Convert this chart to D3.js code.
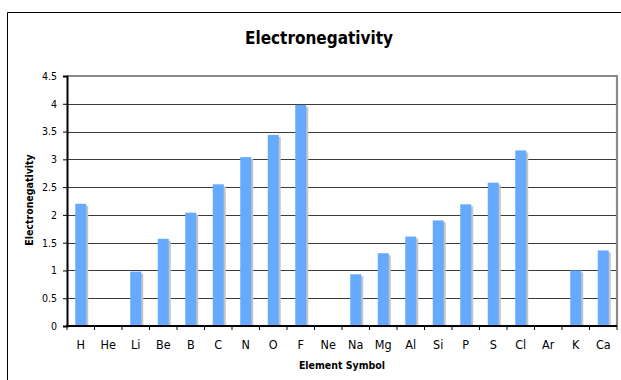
<!DOCTYPE html>
<html>
<head>
<meta charset="utf-8">
<script src="https://cdn.jsdelivr.net/npm/d3@7"></script>
<style>
  html, body { margin: 0; padding: 0; background: #fff; overflow: hidden; }
  svg { display: block; font-family: "DejaVu Sans Condensed", "DejaVu Sans", Verdana, sans-serif; }
</style>
</head>
<body>
<svg id="chart" width="621" height="380"></svg>
<script>
// Electronegativity of the first 20 elements
const elements = ["H","He","Li","Be","B","C","N","O","F","Ne","Na","Mg","Al","Si","P","S","Cl","Ar","K","Ca"];
const electronegativity = [2.2,0,0.98,1.57,2.04,2.55,3.04,3.44,3.98,0,0.93,1.31,1.61,1.9,2.19,2.58,3.16,0,1.0,1.36];
const yTicks = [0,0.5,1,1.5,2,2.5,3,3.5,4,4.5];

const svg = d3.select("#chart");
const plot = { left: 67, right: 617, top: 76, bottom: 326 };
const labelFont = "DejaVu Sans Condensed, DejaVu Sans, Verdana, sans-serif";

// outer chart frame: only the top and left edges fall inside the view
svg.append("path")
  .attr("d", "M7.5,380 V12.5 H621")
  .attr("fill", "none").attr("stroke", "#000").attr("stroke-width", 1);

const x = d3.scaleBand()
  .domain(elements)
  .range([plot.left, plot.right])
  .paddingInner(0.6)
  .paddingOuter(0.3);

const y = d3.scaleLinear()
  .domain([0, 4.5])
  .range([plot.bottom, plot.top]);

// horizontal gridlines
svg.append("g")
  .selectAll("line")
  .data(yTicks.filter(t => t > 0 && t < 4.5))
  .join("line")
  .attr("x1", plot.left).attr("x2", plot.right)
  .attr("y1", d => Math.round(y(d)) + 0.5).attr("y2", d => Math.round(y(d)) + 0.5)
  .attr("stroke", "#3a3a3a").attr("stroke-width", 1.2);

// plot frame: grey top and right edges
svg.append("path")
  .attr("d", `M${plot.left},${plot.top} H${plot.right} V${plot.bottom}`)
  .attr("fill", "none").attr("stroke", "#8a8a8a").attr("stroke-width", 2.2);

// bars with a soft shadow to the right
const bars = svg.append("g");
const shown = elements.map((e, i) => ({ e, v: electronegativity[i] })).filter(d => d.v > 0);
bars.selectAll("rect.shadow")
  .data(shown)
  .join("rect")
  .attr("class", "shadow")
  .attr("x", d => x(d.e) + 2)
  .attr("y", d => y(d.v) + 2)
  .attr("width", x.bandwidth())
  .attr("height", d => plot.bottom - y(d.v) - 2)
  .attr("fill", "#c4c4c4");
bars.selectAll("rect.bar")
  .data(shown)
  .join("rect")
  .attr("class", "bar")
  .attr("x", d => x(d.e))
  .attr("y", d => y(d.v))
  .attr("width", x.bandwidth())
  .attr("height", d => plot.bottom - y(d.v))
  .attr("fill", "#65aaff");

// y axis
const yAxis = d3.axisLeft(y)
  .tickValues(yTicks)
  .tickSize(4)
  .tickPadding(6)
  .tickFormat(d => String(d));
const gy = svg.append("g")
  .attr("transform", `translate(${plot.left},0)`)
  .call(yAxis);
gy.select(".domain").attr("stroke", "#000").attr("stroke-width", 2);
gy.selectAll(".tick line").attr("stroke", "#000");
gy.selectAll(".tick text")
  .attr("font-family", labelFont)
  .attr("font-size", 10.5).attr("fill", "#000");

// x axis: ticks sit on the category boundaries
const gx = svg.append("g")
  .attr("transform", `translate(0,${plot.bottom})`);
gx.append("line")
  .attr("x1", plot.left - 1).attr("x2", plot.right)
  .attr("y1", 0).attr("y2", 0)
  .attr("stroke", "#000").attr("stroke-width", 2);
const boundaries = elements.map(e => x(e) - x.step() * x.paddingOuter()).concat([plot.right]);
gx.selectAll("line.tick")
  .data(boundaries)
  .join("line")
  .attr("class", "tick")
  .attr("x1", d => d).attr("x2", d => d)
  .attr("y1", 0).attr("y2", 4)
  .attr("stroke", "#000").attr("stroke-width", 1);
gx.selectAll("text")
  .data(elements)
  .join("text")
  .attr("x", d => x(d) + x.bandwidth() / 2)
  .attr("y", 23)
  .attr("text-anchor", "middle")
  .attr("font-family", labelFont)
  .attr("font-size", 12.5)
  .attr("fill", "#000")
  .text(d => d);

// titles
svg.append("text")
  .attr("x", 319).attr("y", 44)
  .attr("text-anchor", "middle")
  .attr("font-family", labelFont)
  .attr("font-weight", "bold")
  .attr("font-size", 17)
  .text("Electronegativity");

svg.append("text")
  .attr("x", 342).attr("y", 369)
  .attr("text-anchor", "middle")
  .attr("font-family", labelFont)
  .attr("font-weight", "bold")
  .attr("font-size", 10.5)
  .text("Element Symbol");

svg.append("text")
  .attr("transform", "translate(33,200) rotate(-90)")
  .attr("text-anchor", "middle")
  .attr("font-family", labelFont)
  .attr("font-weight", "bold")
  .attr("font-size", 10.5)
  .text("Electronegativity");
</script>
</body>
</html>
